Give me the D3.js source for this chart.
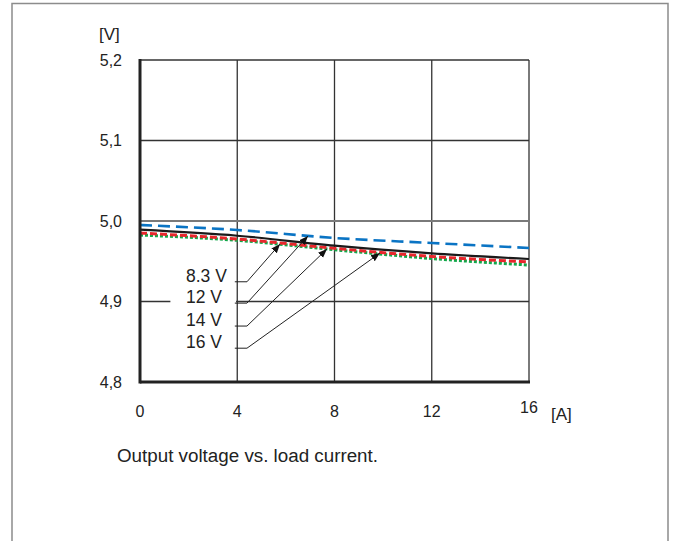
<!DOCTYPE html>
<html>
<head>
<meta charset="utf-8">
<script src="https://cdn.jsdelivr.net/npm/d3@7"></script>
<style>
  body { margin: 0; background: #fff; }
  text { font-family: "Liberation Sans", Arial, sans-serif; fill: #222; }
</style>
</head>
<body>
<script>
(function () {
    'use strict';

    // load current [A]
    var current = [0, 4, 8, 12, 16];
    // output voltage [V] per input voltage
    var v8_3 = [4.9892, 4.9817, 4.9693, 4.9598, 4.9528];
    var v12 = [4.9950, 4.9888, 4.9789, 4.9727, 4.9665];
    var v14 = [4.9851, 4.9776, 4.9661, 4.9559, 4.9491];
    var v16 = [4.9826, 4.9760, 4.9643, 4.9534, 4.9453];

    var xTicks = [0, 4, 8, 12, 16];
    var yTicks = [4.8, 4.9, 5.0, 5.1, 5.2];

    var labels = ['8.3 V', '12 V', '14 V', '16 V'];
    var labelY = [4.9245, 4.898, 4.8695, 4.842];
    // where each leader arrow ends [A, V]
    var arrowX = [5.76, 6.91, 7.69, 9.87];
    var arrowV = [4.9714, 4.9814, 4.9652, 4.9602];

    var width = 675, height = 541;
    var svg = d3.select('body')
        .append('svg')
        .attr('width', width)
        .attr('height', height);

    var x = d3.scaleLinear().domain([0, 16]).range([140, 529]);
    var y = d3.scaleLinear().domain([4.8, 5.2]).range([382, 60]);

    // outer frame
    svg.append('path')
        .attr('d', 'M12,541V3.5H668V541')
        .attr('fill', 'none')
        .attr('stroke', '#8c8c8c')
        .attr('stroke-width', 1.5);

    svg.append('defs').append('marker')
        .attr('id', 'arrow')
        .attr('viewBox', '0 0 10 10')
        .attr('refX', 10)
        .attr('refY', 5)
        .attr('markerWidth', 9)
        .attr('markerHeight', 9)
        .attr('markerUnits', 'userSpaceOnUse')
        .attr('orient', 'auto')
        .append('path')
        .attr('d', 'M0,1L10,5L0,9Z')
        .attr('fill', '#111');

    // grid
    var grid = svg.append('g');
    grid.selectAll('line.gx')
        .data(xTicks.slice(1))
        .enter()
        .append('line')
        .attr('x1', function (d) { return x(d); })
        .attr('x2', function (d) { return x(d); })
        .attr('y1', y(5.2))
        .attr('y2', y(4.8))
        .attr('stroke', function (d) { return d === 16 ? '#7a7a7a' : '#333'; })
        .attr('stroke-width', function (d) { return d === 16 ? 2 : 1.3; });
    grid.selectAll('line.gy')
        .data(yTicks.slice(1))
        .enter()
        .append('line')
        .attr('x1', x(0))
        .attr('x2', x(16))
        .attr('y1', function (d) { return y(d); })
        .attr('y2', function (d) { return y(d); })
        .attr('stroke', function (d) { return d === 5.0 ? '#7a7a7a' : '#333'; })
        .attr('stroke-width', function (d) { return d === 5.0 ? 2 : 1.3; });

    // data lines
    var series = [
        { v: v16, color: '#12a84a', width: 3, dash: '3,2' },
        { v: v14, color: '#e8262b', width: 3, dash: '7,3' },
        { v: v8_3, color: '#1a1a1a', width: 2.2, dash: null },
        { v: v12, color: '#0a74c4', width: 2.6, dash: '12,6' }
    ];
    var line = d3.line()
        .x(function (d) { return x(d[0]); })
        .y(function (d) { return y(d[1]); })
        .curve(d3.curveMonotoneX);
    svg.selectAll('path.series')
        .data(series)
        .enter()
        .append('path')
        .attr('class', 'series')
        .attr('d', function (s) { return line(d3.zip(current, s.v)); })
        .attr('fill', 'none')
        .attr('stroke', function (s) { return s.color; })
        .attr('stroke-width', function (s) { return s.width; })
        .attr('stroke-dasharray', function (s) { return s.dash; });

    // axes
    svg.append('line')
        .attr('x1', x(0)).attr('x2', x(0))
        .attr('y1', y(5.2) - 1).attr('y2', y(4.8) + 1.5)
        .attr('stroke', '#222').attr('stroke-width', 3);
    svg.append('line')
        .attr('x1', x(0)).attr('x2', x(16) + 1)
        .attr('y1', y(4.8)).attr('y2', y(4.8))
        .attr('stroke', '#222').attr('stroke-width', 3);

    // label box + labels + leaders
    svg.append('rect')
        .attr('x', x(1.25))
        .attr('y', y(4.95))
        .attr('width', x(3.95) - x(1.25))
        .attr('height', y(4.825) - y(4.95))
        .attr('fill', '#fff');

    var ann = svg.selectAll('g.ann')
        .data(labels)
        .enter()
        .append('g');
    ann.append('text')
        .attr('x', 186)
        .attr('y', function (d, i) { return y(labelY[i]); })
        .attr('font-size', 17.5)
        .text(function (d) { return d; });
    ann.append('line')
        .attr('x1', x(3.9))
        .attr('x2', x(4.4))
        .attr('y1', function (d, i) { return y(labelY[i]); })
        .attr('y2', function (d, i) { return y(labelY[i]); })
        .attr('stroke', '#222')
        .attr('stroke-width', 1);
    ann.append('line')
        .attr('x1', x(4.4))
        .attr('y1', function (d, i) { return y(labelY[i]); })
        .attr('x2', function (d, i) { return x(arrowX[i]); })
        .attr('y2', function (d, i) { return y(arrowV[i]); })
        .attr('stroke', '#222')
        .attr('stroke-width', 1)
        .attr('marker-end', 'url(#arrow)');

    // tick labels
    svg.selectAll('text.yt')
        .data(yTicks)
        .enter()
        .append('text')
        .attr('x', 122)
        .attr('y', function (d) { return y(d) + 5.5; })
        .attr('text-anchor', 'end')
        .attr('font-size', 16)
        .text(function (d) { return d3.format('.1f')(d).replace('.', ','); });
    svg.selectAll('text.xt')
        .data(xTicks)
        .enter()
        .append('text')
        .attr('x', function (d) { return x(d); })
        .attr('y', function (d) { return d === 16 ? 413 : 417; })
        .attr('text-anchor', 'middle')
        .attr('font-size', 16)
        .text(function (d) { return d; });

    svg.append('text')
        .attr('x', 99).attr('y', 40)
        .attr('font-size', 17)
        .text('[V]');
    svg.append('text')
        .attr('x', 551).attr('y', 420)
        .attr('font-size', 17)
        .text('[A]');

    svg.append('text')
        .attr('x', 117).attr('y', 462)
        .attr('font-size', 18.8)
        .text('Output voltage vs. load current.');
}());
</script>
</body>
</html>
